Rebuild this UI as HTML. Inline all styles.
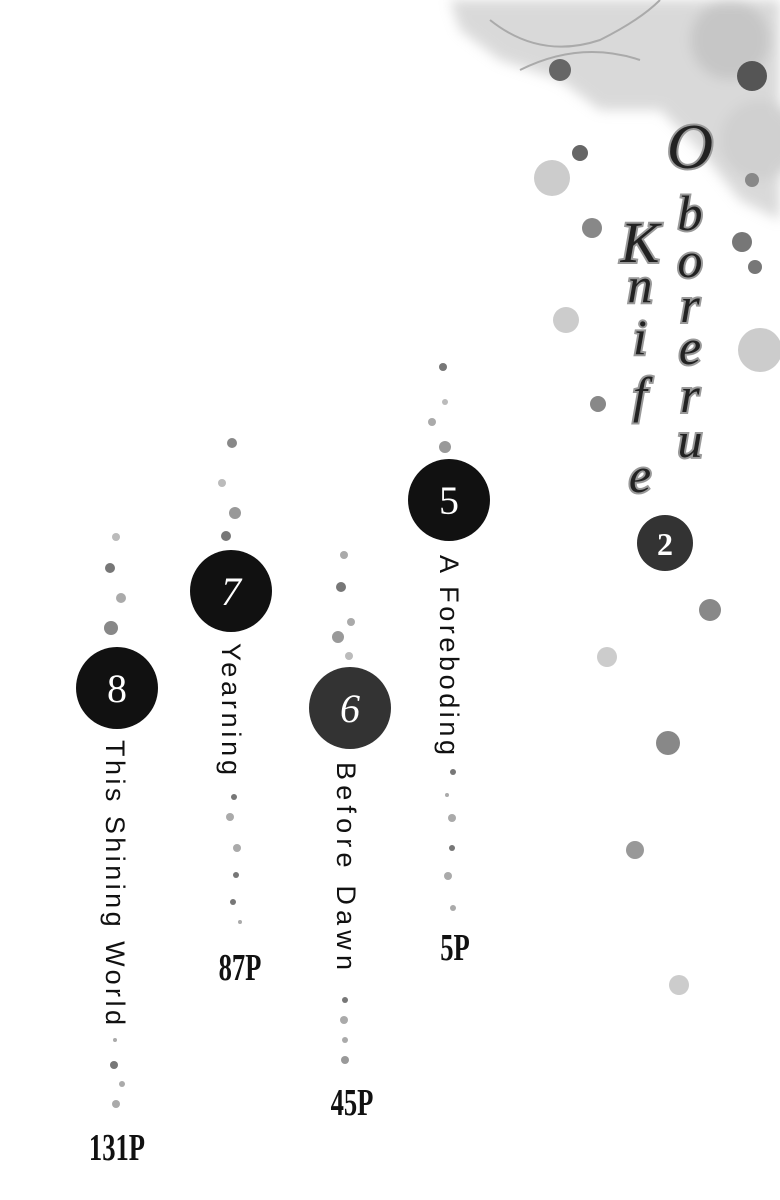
<!DOCTYPE html>
<html><head><style>
html,body{margin:0;padding:0;background:#fff;}
svg{display:block;}
</style></head><body>
<svg width="780" height="1200" viewBox="0 0 780 1200" xmlns="http://www.w3.org/2000/svg">
<defs>
<filter id="blur"><feGaussianBlur stdDeviation="6"/></filter>
</defs>
<g filter="url(#blur)" opacity="0.55">
<path d="M450 0 L780 0 L780 220 L740 200 L700 150 L660 110 L600 110 L560 80 L500 60 L460 30 Z" fill="#bbb"/>
<circle cx="730" cy="40" r="40" fill="#999"/>
<circle cx="760" cy="140" r="40" fill="#aaa"/>
</g>
<path d="M490 20 Q540 60 600 40 Q640 20 660 0" stroke="#aaa" stroke-width="2" fill="none"/>
<path d="M520 70 Q580 40 640 60" stroke="#aaa" stroke-width="2" fill="none"/>
<g fill="#666">
<circle cx="560" cy="70" r="11"/><circle cx="752" cy="76" r="15" fill="#555"/>
<circle cx="580" cy="153" r="8"/><circle cx="592" cy="228" r="10" fill="#888"/>
<circle cx="742" cy="242" r="10" fill="#777"/><circle cx="755" cy="267" r="7" fill="#777"/>
<circle cx="752" cy="180" r="7" fill="#888"/>
<circle cx="598" cy="404" r="8" fill="#888"/>
<circle cx="710" cy="610" r="11" fill="#888"/><circle cx="668" cy="743" r="12" fill="#888"/>
<circle cx="635" cy="850" r="9" fill="#999"/>
</g>
<g fill="#ccc">
<circle cx="552" cy="178" r="18"/><circle cx="566" cy="320" r="13"/>
<circle cx="760" cy="350" r="22"/><circle cx="607" cy="657" r="10"/>
<circle cx="679" cy="985" r="10"/>
</g>
<g font-family="Liberation Serif, serif" font-style="italic" font-size="50" fill="#222" stroke="#999" stroke-width="4" text-anchor="middle" paint-order="stroke">
<text x="690" y="168" font-size="64">O</text>
<text x="690" y="230">b</text><text x="690" y="277">o</text><text x="690" y="322">r</text>
<text x="690" y="364">e</text><text x="690" y="412">r</text><text x="690" y="457">u</text>
<text x="640" y="262" font-size="58">K</text><text x="640" y="302">n</text>
<text x="640" y="354">i</text><text x="640" y="412">f</text><text x="640" y="492">e</text>
</g>
<circle cx="665" cy="543" r="28" fill="#333"/>
<text x="665" y="555" font-family="Liberation Serif, serif" font-weight="bold" font-size="32" fill="#fff" text-anchor="middle">2</text>
<g font-family="Liberation Serif, serif" font-size="40" fill="#fff" text-anchor="middle">
<circle cx="449" cy="500" r="41" fill="#111"/><text x="449" y="514">5</text>
<circle cx="231" cy="591" r="41" fill="#111"/><text x="231" y="605" font-style="italic">7</text>
<circle cx="350" cy="708" r="41" fill="#333"/><text x="350" y="722" font-style="italic">6</text>
<circle cx="117" cy="688" r="41" fill="#111"/><text x="117" y="702">8</text>
</g>
<g font-family="Liberation Sans, sans-serif" font-size="27" fill="#111">
<text transform="translate(440,555) rotate(90)" textLength="200" lengthAdjust="spacing">A Foreboding</text>
<text transform="translate(222,643) rotate(90)" textLength="132" lengthAdjust="spacing">Yearning</text>
<text transform="translate(337,762) rotate(90)" textLength="208" lengthAdjust="spacing">Before  Dawn</text>
<text transform="translate(106,740) rotate(90)" textLength="285" lengthAdjust="spacing">This  Shining  World</text>
</g>
<g fill="#777">
<circle cx="443" cy="367" r="4"/><circle cx="445" cy="402" r="3" fill="#bbb"/><circle cx="432" cy="422" r="4" fill="#aaa"/><circle cx="445" cy="447" r="6" fill="#999"/>
<circle cx="232" cy="443" r="5" fill="#888"/><circle cx="222" cy="483" r="4" fill="#bbb"/><circle cx="235" cy="513" r="6" fill="#999"/><circle cx="226" cy="536" r="5"/>
<circle cx="116" cy="537" r="4" fill="#bbb"/><circle cx="110" cy="568" r="5"/><circle cx="121" cy="598" r="5" fill="#aaa"/><circle cx="111" cy="628" r="7" fill="#888"/>
<circle cx="344" cy="555" r="4" fill="#aaa"/><circle cx="341" cy="587" r="5"/><circle cx="351" cy="622" r="4" fill="#aaa"/><circle cx="338" cy="637" r="6" fill="#999"/><circle cx="349" cy="656" r="4" fill="#bbb"/>
<circle cx="453" cy="772" r="3"/><circle cx="447" cy="795" r="2" fill="#aaa"/><circle cx="452" cy="818" r="4" fill="#aaa"/><circle cx="452" cy="848" r="3"/><circle cx="448" cy="876" r="4" fill="#aaa"/><circle cx="453" cy="908" r="3" fill="#aaa"/>
<circle cx="234" cy="797" r="3"/><circle cx="230" cy="817" r="4" fill="#aaa"/><circle cx="237" cy="848" r="4" fill="#aaa"/><circle cx="236" cy="875" r="3"/><circle cx="233" cy="902" r="3"/><circle cx="240" cy="922" r="2" fill="#aaa"/>
<circle cx="345" cy="1000" r="3"/><circle cx="344" cy="1020" r="4" fill="#aaa"/><circle cx="345" cy="1040" r="3" fill="#aaa"/><circle cx="345" cy="1060" r="4" fill="#999"/>
<circle cx="115" cy="1040" r="2" fill="#aaa"/><circle cx="114" cy="1065" r="4"/><circle cx="122" cy="1084" r="3" fill="#aaa"/><circle cx="116" cy="1104" r="4" fill="#aaa"/>
</g>
<g font-family="Liberation Serif, serif" font-weight="bold" font-size="38" fill="#111" text-anchor="middle">
<text x="455" y="960" transform="translate(455,960) scale(0.7,1) translate(-455,-960)">5P</text>
<text x="240" y="980" transform="translate(240,980) scale(0.7,1) translate(-240,-980)">87P</text>
<text x="352" y="1115" transform="translate(352,1115) scale(0.7,1) translate(-352,-1115)">45P</text>
<text x="117" y="1160" transform="translate(117,1160) scale(0.7,1) translate(-117,-1160)">131P</text>
</g>
</svg>
</body></html>
